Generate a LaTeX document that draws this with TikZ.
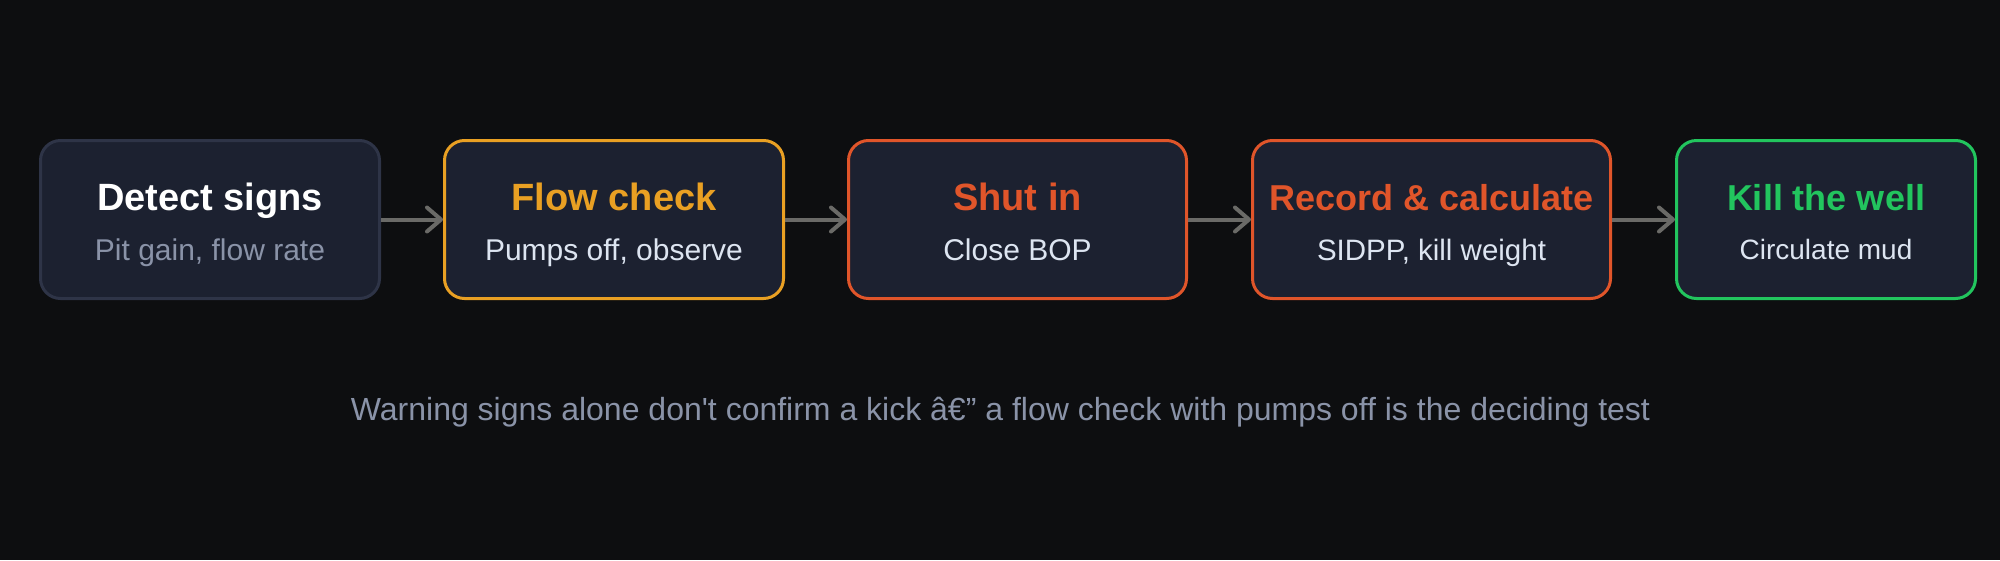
\documentclass[tikz,border=0pt]{standalone}
\usepackage{fontspec}
\setmainfont{Liberation Sans}[Ligatures=TeXOff]
\usetikzlibrary{arrows.meta}
\definecolor{bg}{HTML}{0D0E10}
\definecolor{cardfill}{HTML}{1C2130}
\definecolor{cardgray}{HTML}{2E3447}
\definecolor{amber}{HTML}{E9A023}
\definecolor{rust}{HTML}{E0552A}
\definecolor{leaf}{HTML}{22C55E}
\definecolor{subtext}{HTML}{DDE5F1}
\definecolor{mutedtext}{HTML}{8A93A8}
\definecolor{arrowgray}{HTML}{6A6A67}
\tikzset{
  card/.style={draw, line width=3pt, rounded corners=20pt, fill=cardfill,
    minimum width=#1, minimum height=158pt, inner sep=0pt, rectangle},
  titletext/.style={anchor=base, inner sep=0pt, font=\bfseries\fontsize{38}{40}\selectfont},
  smalltitle/.style={anchor=base, inner sep=0pt, font=\bfseries\fontsize{36}{38}\selectfont},
  subtitletext/.style={anchor=base, inner sep=0pt, font=\fontsize{30}{32}\selectfont, text=subtext},
  flowarrow/.style={draw=arrowgray, line width=4pt,
    -{Straight Barb[length=14pt,width=24pt,round]}},
  captiontext/.style={anchor=base, inner sep=0pt, font=\fontsize{32}{34}\selectfont, text=mutedtext}
}
\begin{document}
\begin{tikzpicture}[x=1pt,y=-1pt]
\fill[bg] (0,0) rectangle (2000,560);
\useasboundingbox (0,0) rectangle (2000,560);

\node[card=339pt, draw=cardgray] (b1) at (210,219.5) {};
\node[card=339pt, draw=amber] (b2) at (614,219.5) {};
\node[card=338pt, draw=rust] (b3) at (1017.5,219.5) {};
\node[card=358pt, draw=rust] (b4) at (1431.5,219.5) {};
\node[card=299pt, draw=leaf] (b5) at (1826,219.5) {};

\node[titletext, text=white] (t1) at (210,210) {Detect signs};
\node[subtitletext, text=mutedtext] (s1) at (210,260.5) {Pit gain, flow rate};

\node[titletext, text=amber] (t2) at (614,210) {Flow check};
\node[subtitletext] (s2) at (614,260.5) {Pumps off, observe};

\node[titletext, text=rust] (t3) at (1017.5,210) {Shut in};
\node[subtitletext] (s3) at (1017.5,260.5) {Close BOP};

\node[smalltitle, text=rust] (t4) at (1431.5,210) {Record \& calculate};
\node[subtitletext, font=\fontsize{29.5}{32}\selectfont] (s4) at (1431.5,260.5) {SIDPP, kill weight};

\node[smalltitle, text=leaf] (t5) at (1826,210) {Kill the well};
\node[subtitletext, font=\fontsize{28}{30}\selectfont] (s5) at (1826,259.5) {Circulate mud};

\draw[flowarrow] (b1.east) -- (b2.west);
\draw[flowarrow] (b2.east) -- (b3.west);
\draw[flowarrow] (b3.east) -- (b4.west);
\draw[flowarrow] (b4.east) -- (b5.west);

\node[captiontext] (cap) at (1000.5,420) {Warning signs alone don't confirm a kick â€” a flow check with pumps off is the deciding test};
\end{tikzpicture}
\end{document}
